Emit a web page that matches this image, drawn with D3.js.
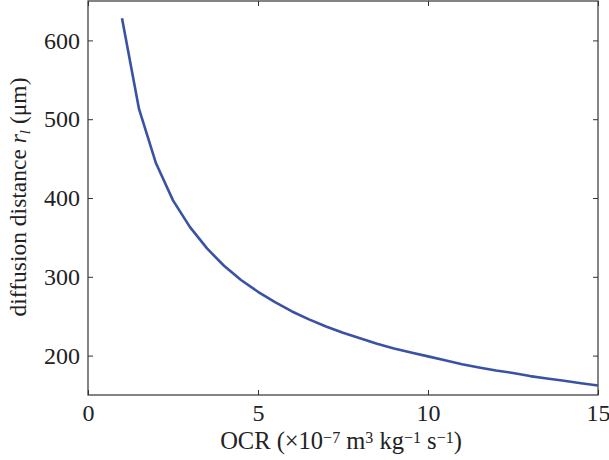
<!DOCTYPE html>
<html>
<head>
<meta charset="utf-8">
<script src="https://cdn.jsdelivr.net/npm/d3@7"></script>
<style>
  body { margin: 0; background: #fff; }
  text { font-family: "Liberation Serif", "DejaVu Serif", serif; fill: #222; }
</style>
</head>
<body>
<svg id="chart" width="609" height="460"></svg>
<script>
// OCR values (x 10^-7 m3 kg-1 s-1)
var ocr = [1, 1.5, 2, 2.5, 3, 3.5, 4, 4.5, 5, 5.5, 6, 6.5, 7, 7.5, 8, 8.5, 9, 9.5, 10,
  10.5, 11, 11.5, 12, 12.5, 13, 13.5, 14, 14.5, 15]
// diffusion distance r_l (um)
var distance = [628, 513, 444, 397, 363, 336, 314, 296, 281, 268, 256, 246, 237, 229, 222, 215,
  209, 204, 199, 194, 189, 185, 181, 178, 174, 171, 168, 165, 162]
var xTicks = [0, 5, 10, 15]
var yTicks = [200, 300, 400, 500, 600]

var margin = { left: 88, right: 11, top: 1, bottom: 65 }
var width = 609 - margin.left - margin.right
var height = 460 - margin.top - margin.bottom

var svg = d3.select('#chart')
var g = svg.append('g').attr('transform', 'translate(' + margin.left + ',' + margin.top + ')')

var x = d3.scaleLinear().domain([0, 15]).range([0, width])
var y = d3.scaleLinear().domain([150, 650]).range([height, 0])

function styleAxis (sel, showText) {
  sel.select('.domain').remove()
  sel.selectAll('line').attr('stroke', '#333').attr('stroke-width', 1)
  sel.selectAll('text').style('font-size', '24px').attr('fill', '#222')
    .attr('font-family', '"Liberation Serif", serif')
  if (!showText) sel.selectAll('text').remove()
}

g.append('g').attr('transform', 'translate(0,' + height + ')')
  .call(d3.axisBottom(x).tickValues(xTicks).tickSize(-5).tickPadding(9).tickFormat(d3.format('d')))
  .call(styleAxis, true)
g.append('g')
  .call(d3.axisTop(x).tickValues(xTicks).tickSize(-5))
  .call(styleAxis, false)
g.append('g')
  .call(d3.axisLeft(y).tickValues(yTicks).tickSize(-5).tickPadding(8).tickFormat(d3.format('d')))
  .call(styleAxis, true)
g.append('g').attr('transform', 'translate(' + width + ',0)')
  .call(d3.axisRight(y).tickValues(yTicks).tickSize(-5))
  .call(styleAxis, false)

// frame
g.append('rect')
  .attr('x', 0).attr('y', 0).attr('width', width).attr('height', height)
  .attr('fill', 'none').attr('stroke', '#333').attr('stroke-width', 1.2)

var line = d3.line()
  .x(function (d, i) { return x(ocr[i]) })
  .y(function (d) { return y(d) })

g.append('path')
  .datum(distance)
  .attr('d', line)
  .attr('fill', 'none')
  .attr('stroke', '#3a52a3')
  .attr('stroke-width', 2.6)
  .attr('stroke-linejoin', 'round')

// x label
var xl = svg.append('text')
  .attr('x', 341)
  .attr('y', 449)
  .attr('text-anchor', 'middle')
  .style('font-size', '24.5px')
xl.append('tspan').text('OCR (\u00d710')
xl.append('tspan').attr('baseline-shift', '40%').style('font-size', '16px').text('\u22127')
xl.append('tspan').text(' m')
xl.append('tspan').attr('baseline-shift', '40%').style('font-size', '16px').text('3')
xl.append('tspan').text(' kg')
xl.append('tspan').attr('baseline-shift', '40%').style('font-size', '16px').text('\u22121')
xl.append('tspan').text(' s')
xl.append('tspan').attr('baseline-shift', '40%').style('font-size', '16px').text('\u22121')
xl.append('tspan').text(')')

// y label
var yl = svg.append('text')
  .attr('transform', 'translate(26,197) rotate(-90)')
  .attr('text-anchor', 'middle')
  .style('font-size', '23.5px')
yl.append('tspan').text('diffusion distance ')
yl.append('tspan').style('font-style', 'italic').text('r')
yl.append('tspan').attr('baseline-shift', '-25%').style('font-size', '15px').style('font-style', 'italic').text('l')
yl.append('tspan').text(' (\u03bcm)')
</script>
</body>
</html>
